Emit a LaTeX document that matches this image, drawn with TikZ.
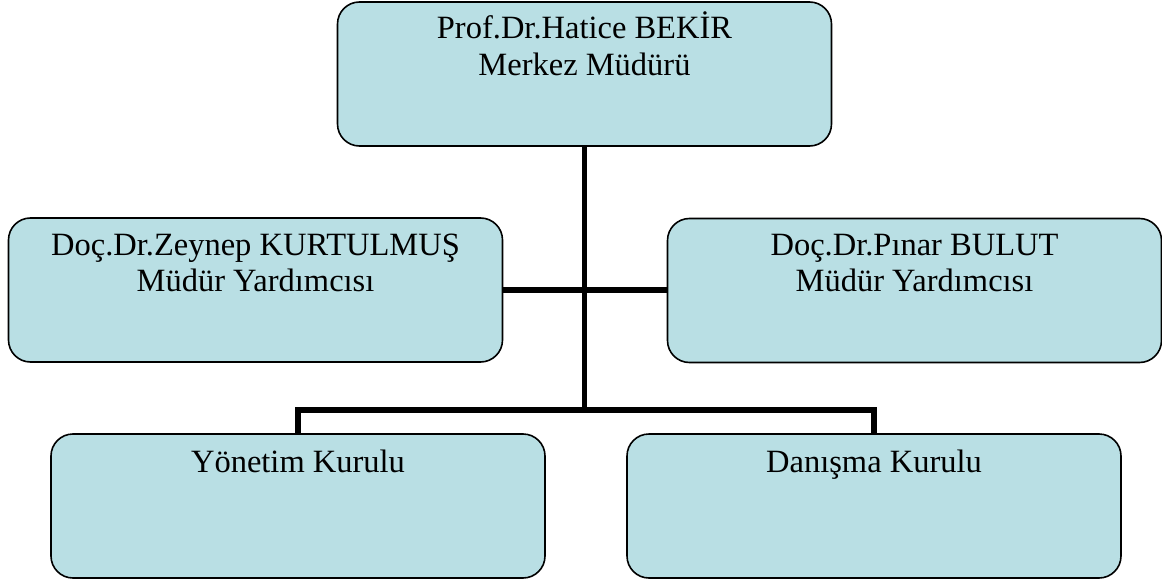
\documentclass[tikz,border=0pt]{standalone}
\usepackage{fontspec}
\setmainfont{Liberation Serif}
\definecolor{boxfill}{RGB}{185,223,228}
\begin{document}
\begin{tikzpicture}[x=1pt,y=-1pt,
  orgbox/.style={draw=black, line width=1.6pt, fill=boxfill, rounded corners=22pt,
    minimum width=494pt, minimum height=144pt, inner sep=0pt, outer sep=0pt},
  txt/.style={anchor=base, inner sep=0pt, font=\fontsize{32.5}{37}\selectfont},
  conn/.style={draw=black, line width=5.5pt, line join=miter}]
\useasboundingbox (0,0) rectangle (1162,583);
% boxes (positions)
\path (584.5,74) node[orgbox, draw=none, fill=none] (top) {};
\path (255.5,290) node[orgbox, draw=none, fill=none] (left) {};
\path (914.5,290.5) node[orgbox, draw=none, fill=none] (right) {};
\path (298,506) node[orgbox, draw=none, fill=none] (bl) {};
\path (874,506) node[orgbox, draw=none, fill=none] (br) {};
\coordinate (bus) at (584.5,410);
% connectors
\draw[conn] (top.south) -- (bus);
\draw[conn] (left.east) -- (right.west |- left.east);
\draw[conn] (bl.north) -- (bl.north |- bus) -- (br.north |- bus) -- (br.north);
% visible boxes
\node[orgbox] (topbox) at (top) {};
\node[orgbox] (leftbox) at (left) {};
\node[orgbox] (rightbox) at (right) {};
\node[orgbox] (blbox) at (bl) {};
\node[orgbox] (brbox) at (br) {};
% texts
\node[txt] (topa) at ([yshift=-36.5pt]top.north) {Prof.Dr.Hatice BEKİR};
\node[txt] (topb) at ([yshift=-74pt]top.north) {Merkez Müdürü};
\node[txt] (lefta) at ([yshift=-37pt]left.north) {Doç.Dr.Zeynep KURTULMUŞ};
\node[txt] (leftb) at ([yshift=-73pt]left.north) {Müdür Yardımcısı};
\node[txt] (righta) at ([yshift=-37pt]right.north) {Doç.Dr.Pınar BULUT};
\node[txt] (rightb) at ([yshift=-73pt]right.north) {Müdür Yardımcısı};
\node[txt] (bla) at ([yshift=-38pt]bl.north) {Yönetim Kurulu};
\node[txt] (bra) at ([yshift=-38pt]br.north) {Danışma Kurulu};
\end{tikzpicture}
\end{document}
